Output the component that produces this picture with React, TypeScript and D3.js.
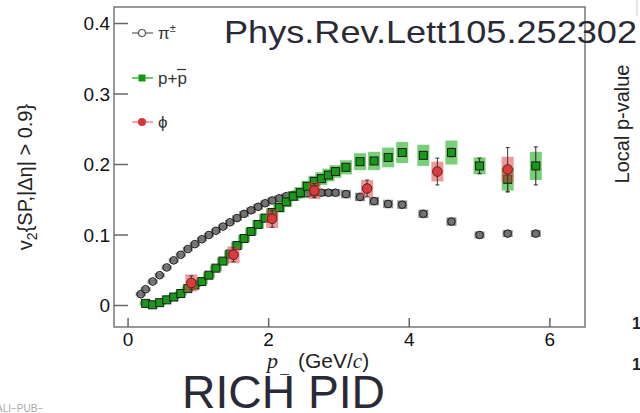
import React from 'react';
import * as d3 from 'd3';

// pions
const pionPt = [0.18, 0.25, 0.35, 0.45, 0.55, 0.65, 0.75, 0.85, 0.95, 1.05, 1.15, 1.25, 1.35, 1.45, 1.55, 1.65, 1.75, 1.85, 1.95, 2.05, 2.15, 2.25, 2.35, 2.45, 2.55, 2.65, 2.75, 2.85, 2.95, 3.1, 3.3, 3.5, 3.7, 3.9, 4.2, 4.6, 5.0, 5.4, 5.8];
const pionV2 = [0.016, 0.023, 0.034, 0.043, 0.054, 0.064, 0.072, 0.080, 0.087, 0.094, 0.100, 0.106, 0.112, 0.118, 0.124, 0.130, 0.135, 0.140, 0.145, 0.149, 0.152, 0.155, 0.157, 0.158, 0.159, 0.160, 0.160, 0.160, 0.160, 0.158, 0.154, 0.148, 0.144, 0.143, 0.130, 0.119, 0.100, 0.102, 0.102];
const pionSys = [0.003, 0.003, 0.003, 0.003, 0.003, 0.003, 0.003, 0.003, 0.003, 0.003, 0.003, 0.003, 0.003, 0.003, 0.004, 0.004, 0.004, 0.004, 0.004, 0.004, 0.004, 0.004, 0.005, 0.005, 0.005, 0.005, 0.005, 0.005, 0.005, 0.006, 0.006, 0.006, 0.006, 0.006, 0.006, 0.006, 0.005, 0.005, 0.005];

// protons
const protonPt = [0.25, 0.35, 0.45, 0.55, 0.65, 0.75, 0.85, 0.95, 1.05, 1.15, 1.25, 1.35, 1.45, 1.55, 1.65, 1.75, 1.85, 1.95, 2.05, 2.15, 2.25, 2.35, 2.45, 2.55, 2.65, 2.75, 2.85, 2.95, 3.1, 3.3, 3.5, 3.7, 3.9, 4.2, 4.6, 5.0, 5.4, 5.8];
const protonV2 = [0.003, 0.001, 0.004, 0.008, 0.012, 0.017, 0.024, 0.029, 0.034, 0.043, 0.053, 0.063, 0.073, 0.085, 0.095, 0.105, 0.115, 0.124, 0.132, 0.139, 0.147, 0.155, 0.160, 0.169, 0.176, 0.180, 0.185, 0.190, 0.196, 0.204, 0.205, 0.210, 0.217, 0.213, 0.217, 0.198, 0.179, 0.198];
const protonSys = [0.003, 0.003, 0.003, 0.003, 0.003, 0.003, 0.003, 0.003, 0.004, 0.004, 0.004, 0.005, 0.005, 0.005, 0.005, 0.005, 0.006, 0.006, 0.006, 0.007, 0.007, 0.007, 0.008, 0.008, 0.008, 0.009, 0.009, 0.009, 0.010, 0.012, 0.013, 0.014, 0.015, 0.015, 0.017, 0.012, 0.016, 0.020];
const protonStat = [0, 0, 0, 0, 0, 0, 0, 0, 0, 0, 0, 0, 0, 0, 0, 0, 0, 0, 0, 0, 0, 0, 0, 0, 0, 0, 0, 0, 0.002, 0.002, 0.003, 0.003, 0.004, 0.004, 0.006, 0.011, 0.018, 0.027];

// phi
const phiPt = [0.9, 1.5, 2.05, 2.65, 3.4, 4.4, 5.4];
const phiV2 = [0.032, 0.072, 0.123, 0.163, 0.166, 0.190, 0.193];
const phiSys = [0.012, 0.012, 0.013, 0.012, 0.012, 0.014, 0.018];
const phiStat = [0.010, 0.010, 0.012, 0.010, 0.012, 0.019, 0.031];

const xTicks = [0, 2, 4, 6];
const yTicks = [0, 0.1, 0.2, 0.3, 0.4];
const yTickLabels = ['0', '0.1', '0.2', '0.3', '0.4'];

const FONT = 'Liberation Sans, Arial, sans-serif';
const SERIF = 'Liberation Serif, Times New Roman, serif';

export default function App() {
  const x = d3.scaleLinear().domain([-0.2, 6.5]).range([114, 585]);
  const y = d3.scaleLinear().domain([0, 0.4]).range([305.5, 23.5]);
  const top = 7;
  const bottom = 327;

  const box = (pt: number, v: number, s: number, w: number) => (
    { x: x(pt) - w / 2, y: y(v + s), w, h: Math.max(1, y(v - s) - y(v + s)) }
  );

  return (
    <svg width={640} height={413} style={{ position: 'absolute', left: 0, top: 0, background: '#fff' }}>
      {/* faint edge of neighbouring panel */}
      <line x1={637} x2={637} y1={0} y2={16} stroke="#ccc" strokeWidth={1} />

      {/* frame */}
      <rect x={114} y={top} width={585 - 114} height={bottom - top} fill="none" stroke="#777" strokeWidth={1.5} />

      {/* y ticks */}
      {yTicks.map((t, i) => (
        <g key={'y' + i}>
          <line x1={114} x2={128} y1={y(t)} y2={y(t)} stroke="#666" strokeWidth={1.5} />
          <text x={110} y={y(t)} dy="0.35em" textAnchor="end" fontFamily={FONT} fontSize={19} fill="#111">{yTickLabels[i]}</text>
        </g>
      ))}

      {/* x ticks */}
      {xTicks.map((t) => (
        <g key={'x' + t}>
          <line x1={x(t)} x2={x(t)} y1={bottom} y2={bottom - 9} stroke="#666" strokeWidth={1.5} />
          <text x={x(t)} y={346} textAnchor="middle" fontFamily={FONT} fontSize={19} fill="#111">{t}</text>
        </g>
      ))}

      {/* pion systematics + markers */}
      {pionPt.map((pt, i) => {
        const b = box(pt, pionV2[i], pionSys[i], 10);
        return <rect key={'ps' + i} x={b.x} y={b.y} width={b.w} height={b.h} fill="#444" opacity={0.6} />;
      })}
      {pionPt.map((pt, i) => (
        <circle key={'pc' + i} cx={x(pt)} cy={y(pionV2[i])} r={3.8} fill="#666" fillOpacity={0.7} stroke="#1a1a1a" strokeWidth={1} />
      ))}

      {/* proton systematics, stat errors, markers */}
      {protonPt.map((pt, i) => {
        const b = box(pt, protonV2[i], protonSys[i], 12);
        return <rect key={'prs' + i} x={b.x} y={b.y} width={b.w} height={b.h} fill="#2fb52f" opacity={0.65} />;
      })}
      {protonPt.map((pt, i) => protonStat[i] > 0 ? (
        <g key={'pre' + i} stroke="#222" strokeWidth={1}>
          <line x1={x(pt)} x2={x(pt)} y1={y(protonV2[i] - protonStat[i])} y2={y(protonV2[i] + protonStat[i])} />
          <line x1={x(pt) - 2} x2={x(pt) + 2} y1={y(protonV2[i] - protonStat[i])} y2={y(protonV2[i] - protonStat[i])} />
          <line x1={x(pt) - 2} x2={x(pt) + 2} y1={y(protonV2[i] + protonStat[i])} y2={y(protonV2[i] + protonStat[i])} />
        </g>
      ) : null)}
      {protonPt.map((pt, i) => (
        <rect key={'prm' + i} x={x(pt) - 4} y={y(protonV2[i]) - 4} width={8} height={8} fill="#1a981a" stroke="#1a1a1a" strokeWidth={1} />
      ))}

      {/* phi */}
      {phiPt.map((pt, i) => {
        const b = box(pt, phiV2[i], phiSys[i], 12);
        return <rect key={'fs' + i} x={b.x} y={b.y} width={b.w} height={b.h} fill="#e04444" opacity={0.55} />;
      })}
      {phiPt.map((pt, i) => (
        <g key={'fe' + i} stroke="#333" strokeWidth={1}>
          <line x1={x(pt)} x2={x(pt)} y1={y(phiV2[i] - phiStat[i])} y2={y(phiV2[i] + phiStat[i])} />
          <line x1={x(pt) - 2} x2={x(pt) + 2} y1={y(phiV2[i] - phiStat[i])} y2={y(phiV2[i] - phiStat[i])} />
          <line x1={x(pt) - 2} x2={x(pt) + 2} y1={y(phiV2[i] + phiStat[i])} y2={y(phiV2[i] + phiStat[i])} />
        </g>
      ))}
      {phiPt.map((pt, i) => (
        <circle key={'fm' + i} cx={x(pt)} cy={y(phiV2[i])} r={4.8} fill="#dd3b3b" stroke="#5a2020" strokeWidth={1} />
      ))}

      {/* legend */}
      <g fontFamily={FONT} fontSize={17} fill="#333">
        <line x1={132} x2={153} y1={33} y2={33} stroke="#666" strokeWidth={1.3} />
        <circle cx={142} cy={33} r={3.5} fill="#fff" stroke="#555" strokeWidth={1.2} />
        <text x={158} y={33} dy="0.35em">π<tspan fontSize={11} dy="-7">±</tspan></text>

        <line x1={132} x2={153} y1={78} y2={78} stroke="#22aa22" strokeWidth={1.3} />
        <rect x={138.5} y={74.5} width={7} height={7} fill="#119911" />
        <text x={158} y={78} dy="0.35em">p+p</text>
        <line x1={177} x2={186} y1={69.5} y2={69.5} stroke="#333" strokeWidth={1.2} />

        <line x1={132} x2={153} y1={122} y2={122} stroke="#ee7777" strokeWidth={1.3} />
        <circle cx={142} cy={122} r={4} fill="#d63636" />
        <text x={158} y={122} dy="0.35em">ϕ</text>
      </g>

      {/* y-axis label */}
      <text transform="translate(32,177) rotate(-90)" textAnchor="middle" fontFamily={FONT} fontSize={20} fill="#222">
        v<tspan fontSize={14} dy="5">2</tspan><tspan dy="-5">{'{SP,|Δη| > 0.9}'}</tspan>
      </text>

      {/* x-axis label */}
      <text x={267} y={368} fontFamily={SERIF} fontStyle="italic" fontSize={22} fill="#222">p</text>
      <text x={280} y={384} fontFamily={SERIF} fontSize={15} fill="#222">T</text>
      <text x={298} y={368} fontFamily={FONT} fontSize={21} fill="#222">
        (GeV/<tspan fontFamily={SERIF} fontStyle="italic">c</tspan>)
      </text>

      {/* overlay titles */}
      <text x={224} y={43} fontFamily={FONT} fontSize={30.5} fill="#2a2a36" textLength={413} lengthAdjust="spacingAndGlyphs">Phys.Rev.Lett105.252302</text>
      <rect x={178} y={375} width={212} height={38} fill="#fff" />
      <text x={182} y={408} fontFamily={FONT} fontSize={46} fill="#2a2a36" textLength={203} lengthAdjust="spacingAndGlyphs">RICH PID</text>

      {/* neighbouring panel fragments */}
      <text transform="translate(622,124) rotate(-90)" textAnchor="middle" dy="0.35em" fontFamily={FONT} fontSize={20} fill="#222">Local p-value</text>
      <text x={632} y={329} fontFamily={FONT} fontSize={16} fontWeight="bold" fill="#222">1</text>
      <text x={632} y={370} fontFamily={FONT} fontSize={16} fontWeight="bold" fill="#222">1</text>
      <text x={-4} y={412} fontFamily={FONT} fontSize={10} fill="#aaa">ALI−PUB−</text>
    </svg>
  );
}
